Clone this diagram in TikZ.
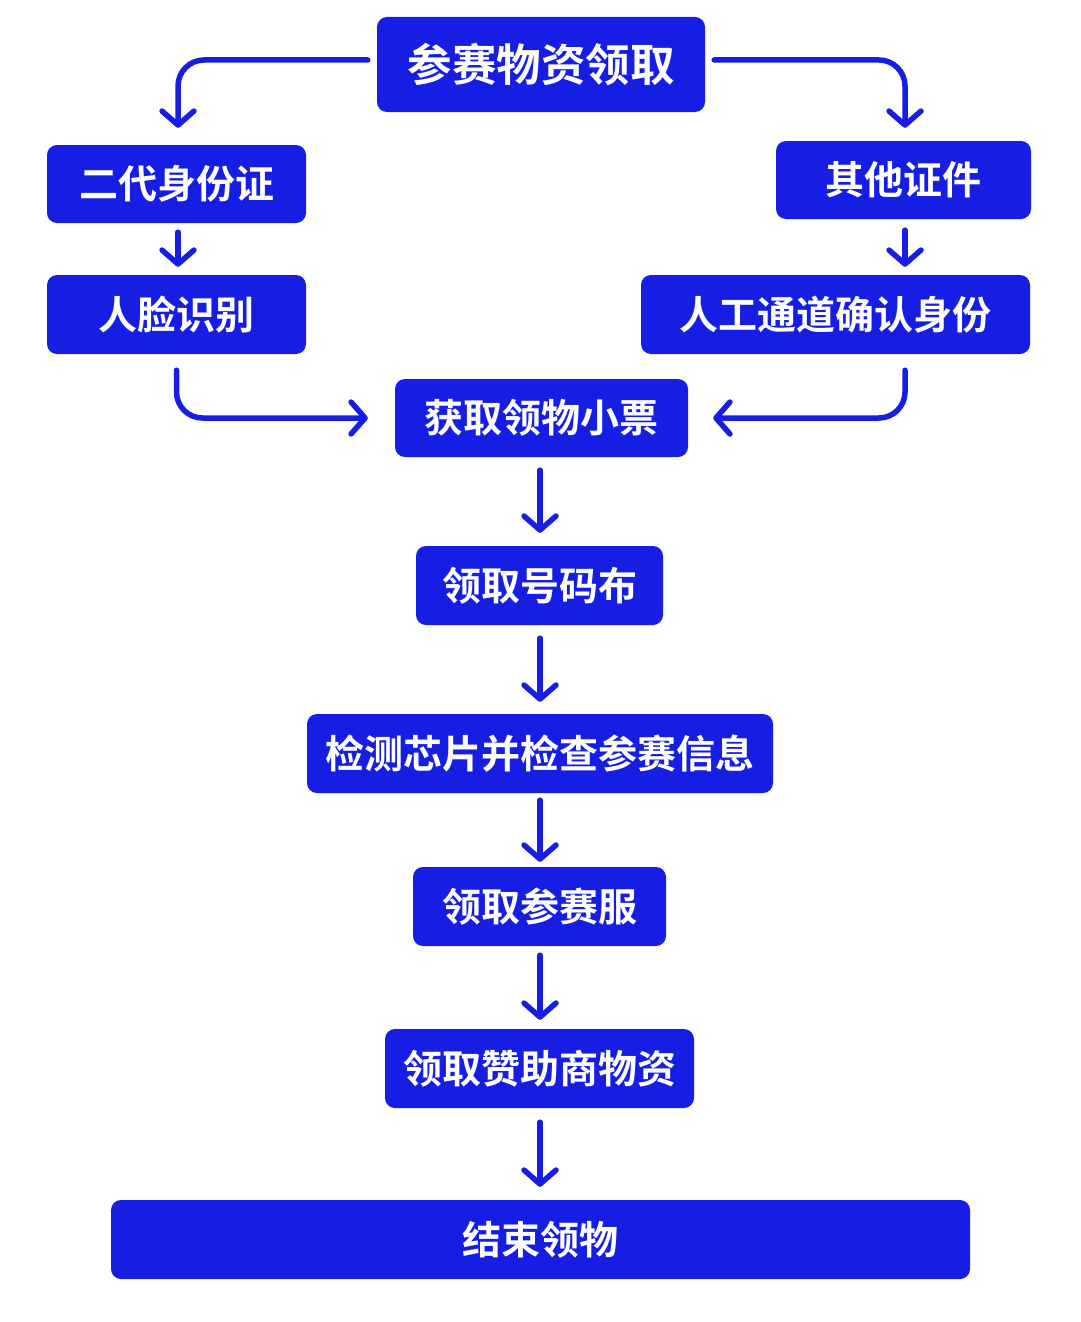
\documentclass[tikz,border=0pt]{standalone}
\usepackage{fontspec}
\newfontfamily\cjk{Noto Sans CJK SC}[BoldFont={Noto Sans CJK SC Bold}]
\usetikzlibrary{arrows.meta}
\definecolor{fc}{RGB}{22,30,228}
\tikzset{
  box/.style={fill=fc, rounded corners=10pt, text=white, font=\cjk\bfseries\fontsize{39pt}{44pt}\selectfont, inner sep=0pt, anchor=center},
  arr/.style={draw=fc, line width=5.5pt, line cap=round, rounded corners=26pt, -{Straight Barb[length=14pt,width=32pt,round]}}
}
\begin{document}
\begin{tikzpicture}[x=1pt,y=-1pt]
\useasboundingbox[fill=white] (0,0) rectangle (1080,1322);
\coordinate (cx) at (540,0);
\node[box, minimum width=328pt, minimum height=95pt, font=\cjk\bfseries\fontsize{44.5pt}{50pt}\selectfont] (top) at (541,64.5) {参赛物资领取};
\node[box, minimum width=259pt, minimum height=78pt] (id2) at (176.5,184) {二代身份证};
\node[box, minimum width=255pt, minimum height=78pt] (oth) at (903.5,180) {其他证件};
\node[box, minimum width=259pt, minimum height=79pt] (face) at (176.5,314.5) {人脸识别};
\node[box, minimum width=389pt, minimum height=79pt] (man) at (835.5,314.5) {人工通道确认身份};
\node[box, minimum width=293pt, minimum height=78pt] (tick) at (541.5,418) {获取领物小票};
\node[box, minimum width=247pt, minimum height=79pt] (bib) at (539.5,585.5) {领取号码布};
\node[box, minimum width=466pt, minimum height=79pt] (chip) at (540,753.5) {检测芯片并检查参赛信息};
\node[box, minimum width=253pt, minimum height=79pt] (suit) at (539.5,906.5) {领取参赛服};
\node[box, minimum width=309pt, minimum height=79pt] (spon) at (539.5,1068.5) {领取赞助商物资};
\node[box, minimum width=859pt, minimum height=79pt] (end) at (540.5,1239.5) {结束领物};
% arrows
\draw[arr] ([shift={(-9pt,4.5pt)}]top.west) -| ([shift={(1.5pt,17pt)}]id2.north);
\draw[arr] ([shift={(9pt,4.5pt)}]top.east) -| ([shift={(1.5pt,13pt)}]oth.north);
\draw[arr] ([shift={(1.5pt,-9pt)}]id2.south) -- ([shift={(1.5pt,8pt)}]face.north);
\draw[arr] ([shift={(1.5pt,-11pt)}]oth.south) -- ([shift={(1.5pt,8pt)}]oth.south |- man.north);
\draw[arr] ([shift={(0pt,-16pt)}]face.south) |- ([xshift=-27pt]tick.west);
\draw[arr] ([shift={(1.5pt,-16pt)}]oth.south |- man.south) |- ([xshift=25pt]tick.east);
\draw[arr] ([yshift=-13pt]cx |- tick.south) -- ([yshift=13pt]cx |- bib.north);
\draw[arr] ([yshift=-13pt]cx |- bib.south) -- ([yshift=12pt]cx |- chip.north);
\draw[arr] ([yshift=-7pt]cx |- chip.south) -- ([yshift=5pt]cx |- suit.north);
\draw[arr] ([yshift=-9pt]cx |- suit.south) -- ([yshift=9pt]cx |- spon.north);
\draw[arr] ([yshift=-14pt]cx |- spon.south) -- ([yshift=13pt]cx |- end.north);
\end{tikzpicture}
\end{document}
